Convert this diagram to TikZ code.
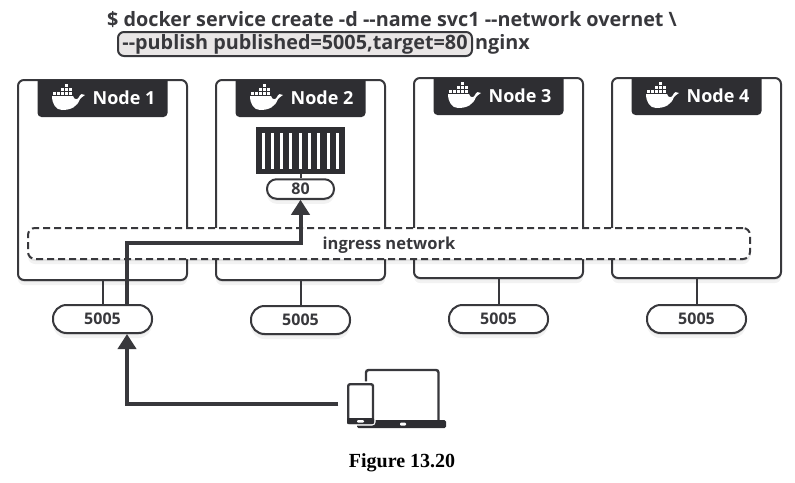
\documentclass[tikz,border=0pt]{standalone}
\usepackage{fontspec}
\setmainfont{Liberation Serif}
\newfontfamily\uifont{Open Sans}
\usetikzlibrary{arrows.meta,positioning,shadows}
\definecolor{inkdark}{HTML}{38383C}
\definecolor{tabdark}{HTML}{2E2E32}
\definecolor{cmdgrey}{HTML}{E9E6E6}
\tikzset{
  softshadow/.style={drop shadow={shadow xshift=0pt,shadow yshift=-2pt,opacity=.07,fill=black},
    drop shadow={shadow xshift=0pt,shadow yshift=-5pt,opacity=.05,fill=black}},
  hostbox/.style={draw=inkdark,line width=2pt,fill=white,rounded corners=6pt,minimum width=169pt,minimum height=200pt,softshadow},
  portbox/.style={draw=inkdark,line width=2pt,fill=white,rounded corners=13.5pt,minimum width=99pt,minimum height=28pt,inner sep=0pt,softshadow,
    text=inkdark,font=\uifont\bfseries\fontsize{16}{16}\selectfont},
  stemline/.style={draw=inkdark,line width=2pt},
  netbox/.style={draw=inkdark,line width=2pt,dashed,dash pattern=on 7pt off 4pt,fill=white,rounded corners=7pt,minimum width=722pt,minimum height=31pt,softshadow},
  routeline/.style={draw=inkdark,line width=4pt},
  routetip/.style={routeline,-{Triangle[length=15pt,width=18pt]}},
  cmdtext/.style={text=inkdark,inner sep=0pt,font=\uifont\bfseries\fontsize{19.8}{19.8}\selectfont},
  whale/.pic={
    \fill[white] (-16,-2) -- (5,-2) .. controls (6,2) and (10,2) .. (11,-1)
      .. controls (12,-4) and (15,-5) .. (17,-3) .. controls (14,-1) and (13,0) .. (12,1)
      .. controls (9,9) and (3,12) .. (-6,12) .. controls (-12,12) and (-16,6) .. (-16,-2) -- cycle;
    \foreach \a in {-15,-11,-7,-3,1} \fill[white] (\a,-6) rectangle ++(3,3);
    \foreach \a in {-7,-3,1} \fill[white] (\a,-10) rectangle ++(3,3);
    \fill[white] (-3,-14) rectangle ++(3,3);
  }
}
\begin{document}
\begin{tikzpicture}[x=1pt,y=-1pt]
\useasboundingbox (0,0) rectangle (795,482);
\foreach \i/\cx/\cy/\py in {1/102.5/180/319,2/300.5/180/320,3/498.5/178/319,4/696.5/178/319}{
  \node (box\i) [hostbox] at (\cx,\cy) {};
  \node (pub\i) [portbox] at (\cx,\py) {\raisebox{-1pt}{5005}};
  \draw[stemline] (box\i) -- (pub\i);
  \fill[tabdark] (\cx-65,\cy-100) [rounded corners=4pt] -- (\cx-65,\cy-63) -- (\cx+65,\cy-63) [sharp corners] -- (\cx+65,\cy-100) -- cycle;
  \pic at (\cx-34.5,\cy-82) {whale};
  \node (tab\i) [text=white,inner sep=0pt,font=\uifont\bfseries\fontsize{18}{18}\selectfont] at (\cx+21.5,\cy-82) {Node \i};
}
\node (ingress) [netbox] at (389,243.5) {};
\node (ingresslabel) [cmdtext,font=\uifont\bfseries\fontsize{16.5}{16.5}\selectfont] at (389,245) {ingress network};
\node (task) [fill=tabdark,minimum width=89pt,minimum height=47pt,inner sep=0pt] at (300.5,150.5) {};
\foreach \b in {0,...,8} \fill[white] (261.5+\b*9.3,132.5) rectangle ++(3,36.5);
\node (port80) [portbox,rounded corners=9.5pt,minimum width=67pt,minimum height=19.5pt] at (300.5,189) {80};
\draw[stemline] (task) -- (port80);
\draw[routetip] ([xshift=24.5pt]pub1.north) -- ++(0,-61) -| (port80.south);
\node (cmdone) [cmdtext] at (392,20) {\$ docker service create -d -{}-name svc1 -{}-network overnet \textbackslash};
\node (cmdpub) [cmdtext,draw=inkdark,line width=2pt,fill=cmdgrey,rounded corners=6pt,minimum width=354pt,minimum height=24pt] at (295,44) {-{}-publish published=5005,target=80};
\node (cmdimg) [cmdtext,right=2pt of cmdpub] {nginx};
\draw[draw=inkdark,line width=2.4pt,rounded corners=2.5pt] (366,421) -- (366,370) -- (438.5,370) -- (438.5,421);
\fill[tabdark,rounded corners=1.5pt] (357,420) rectangle (446,428);
\fill[white,rounded corners=1pt] (400,422.5) rectangle (406,425.5);
\node (phone) [draw=white,line width=1.2pt,fill=white,rounded corners=3pt,minimum width=29pt,minimum height=43pt,inner sep=0pt] at (360.5,403.5) {};
\draw[draw=inkdark,line width=2.4pt,rounded corners=2pt] (348.2,384.2) rectangle (373,423);
\fill[tabdark,rounded corners=1pt] (347,418) rectangle (374,424);
\fill[white,rounded corners=1pt] (357,420) rectangle (364,422.5);
\draw[routetip] ([xshift=-7pt]phone.west) -| ([xshift=24.5pt]pub1.south);
\node (caption) [font=\bfseries\fontsize{20}{20}\selectfont,inner sep=0pt] at (402,463) {Figure 13.20};
\end{tikzpicture}
\end{document}
